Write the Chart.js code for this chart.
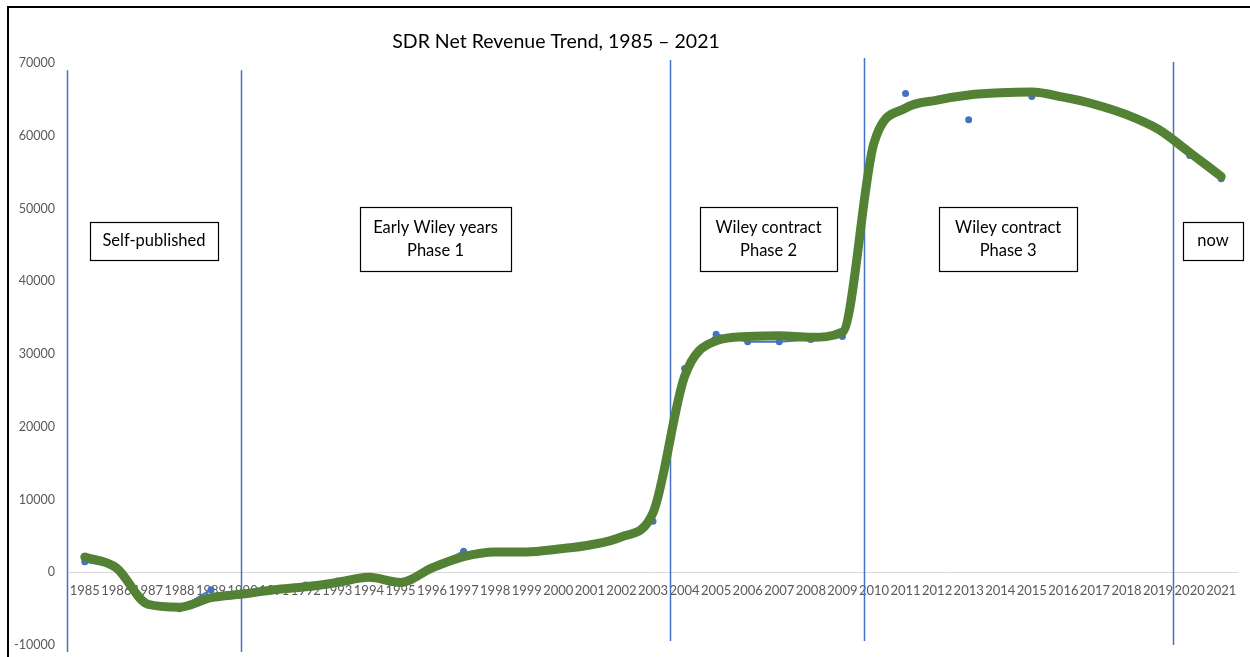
<!DOCTYPE html>
<html>
<head>
<meta charset="utf-8">
<script src="https://cdn.jsdelivr.net/npm/chart.js@4/dist/chart.umd.min.js"></script>
<style>
html,body{margin:0;padding:0;background:#fff;}
canvas{display:block;}
</style>
</head>
<body>
<canvas id="c" width="1250" height="657"></canvas>
<script>
const years = ['1985','1986','1987','1988','1989','1990','1991','1992','1993','1994','1995','1996','1997','1998','1999','2000','2001','2002','2003','2004','2005','2006','2007','2008','2009','2010','2011','2012','2013','2014','2015','2016','2017','2018','2019','2020','2021'];
// Net revenue (blue points), null where no value is plotted
const revenue = [1450, 700, -4500, -5000, -2400, null, null, -1750, -1200, null, -1350, 600, 2900, null, null, null, null, null, 7000, 28000, 32700, 31700, 31700, 32000, 32400, null, 65800, null, 62200, null, 65400, null, null, null, null, 57300, 54100];
// Hand-drawn style trend (green)
const trend = [2100, 600, -4400, -4800, -3500, -3000, -2400, -2000, -1400, -700, -1400, 600, 2150, 2800, 2800, 3200, 3750, 4850, 8150, 26900, 31800, 32400, 32500, 32300, 33000, 59000, 63800, 64900, 65600, 65900, 66000, 65300, 64300, 62900, 60900, 57700, 54400];
const yMin = -10000, yMax = 70000, yStep = 10000;
const chartTitle = 'SDR Net Revenue Trend, 1985 \u2013 2021';
const phaseLabels = [['Self-published'], ['Early Wiley years', 'Phase 1'], ['Wiley contract', 'Phase 2'], ['Wiley contract', 'Phase 3'], ['now']];

const FONT = 'Lato, "Liberation Sans", sans-serif';
const BLUE = '#4472C4', GREEN = '#548235';

// divider lines (category index units, value units)
const dividers = [
  {at: -0.57, top: 69000, bottom: -10960},
  {at: 4.94, top: 69000, bottom: -10960},
  {at: 18.54, top: 70400, bottom: -9440},
  {at: 24.68, top: 70700, bottom: -9440},
  {at: 34.47, top: 70150, bottom: -10000}
];
// annotation boxes: center in (index, value), size in px
const boxGeom = [
  {cx: 2.19, cy: 45540, w: 128, h: 38},
  {cx: 11.11, cy: 45800, w: 151, h: 64},
  {cx: 21.66, cy: 45800, w: 137, h: 64},
  {cx: 29.25, cy: 45800, w: 138, h: 64},
  {cx: 35.74, cy: 45540, w: 60, h: 38}
];

const overlay = {
  id: 'overlay',
  beforeDatasetsDraw(chart) {
    const {ctx, scales: {x, y}} = chart;
    ctx.save();
    ctx.strokeStyle = BLUE;
    ctx.lineWidth = 1.5;
    dividers.forEach(d => {
      const px = Math.round(x.getPixelForValue(d.at)) + 0.5;
      ctx.beginPath();
      ctx.moveTo(px, y.getPixelForValue(d.top));
      ctx.lineTo(px, y.getPixelForValue(d.bottom));
      ctx.stroke();
    });
    ctx.restore();
  },
  afterDraw(chart) {
    const {ctx, scales: {x, y}} = chart;
    ctx.save();
    // annotation boxes
    boxGeom.forEach((b, i) => {
      const cx = x.getPixelForValue(b.cx), cy = y.getPixelForValue(b.cy);
      const left = Math.round(cx - b.w / 2) + 0.5, top = Math.round(cy - b.h / 2) + 0.5;
      ctx.fillStyle = '#fff';
      ctx.fillRect(left, top, b.w, b.h);
      ctx.strokeStyle = '#000';
      ctx.lineWidth = 1.2;
      ctx.strokeRect(left, top, b.w, b.h);
      ctx.fillStyle = '#000';
      ctx.font = '16.5px ' + FONT;
      ctx.textAlign = 'center';
      ctx.textBaseline = 'middle';
      const lines = phaseLabels[i];
      const lh = 23;
      lines.forEach((t, k) => {
        ctx.fillText(t, cx, cy + (k - (lines.length - 1) / 2) * lh);
      });
    });
    // title
    ctx.fillStyle = '#000';
    ctx.font = '19.5px ' + FONT;
    ctx.textAlign = 'center';
    ctx.textBaseline = 'middle';
    ctx.fillText(chartTitle, 556, 42);
    // outer frame (top and left)
    ctx.strokeStyle = '#000';
    ctx.lineWidth = 2;
    ctx.beginPath();
    ctx.moveTo(8, 657);
    ctx.lineTo(8, 7);
    ctx.lineTo(1250, 7);
    ctx.stroke();
    ctx.restore();
  }
};

new Chart(document.getElementById('c'), {
  type: 'line',
  data: {
    labels: years,
    datasets: [
      {
        label: 'Trend',
        data: trend,
        borderColor: GREEN,
        borderWidth: 9,
        pointRadius: 0,
        cubicInterpolationMode: 'monotone',
        borderCapStyle: 'round',
        borderJoinStyle: 'round',
        fill: false,
        order: 0,
        clip: false
      },
      {
        label: 'Net revenue',
        data: revenue,
        borderColor: BLUE,
        backgroundColor: BLUE,
        borderWidth: 2,
        pointRadius: 3.5,
        pointBorderWidth: 0,
        pointBackgroundColor: BLUE,
        spanGaps: false,
        tension: 0,
        fill: false,
        order: 1,
        clip: false
      }
    ]
  },
  options: {
    responsive: false,
    animation: false,
    devicePixelRatio: 1,
    layout: {padding: {left: 0, right: 13, top: 63, bottom: 12}},
    plugins: {
      legend: {display: false},
      title: {display: false},
      tooltip: {enabled: false}
    },
    scales: {
      x: {
        type: 'category',
        offset: true,
        position: {y: 0},
        grid: {display: false, drawTicks: false},
        border: {display: true, color: '#d9d9d9', width: 1},
        afterFit(scale) { scale.height = 0; },
        ticks: {
          autoSkip: false,
          maxRotation: 0,
          minRotation: 0,
          padding: 11,
          color: '#595959',
          font: {family: FONT, size: 13}
        }
      },
      y: {
        min: yMin,
        max: yMax,
        grid: {display: false, drawTicks: true, tickLength: 14},
        border: {display: false},
        afterFit(scale) { scale.width = 69; },
        ticks: {
          stepSize: yStep,
          padding: 0,
          color: '#595959',
          font: {family: FONT, size: 12.5},
          callback: v => String(v)
        }
      }
    }
  },
  plugins: [overlay]
});
</script>
</body>
</html>
